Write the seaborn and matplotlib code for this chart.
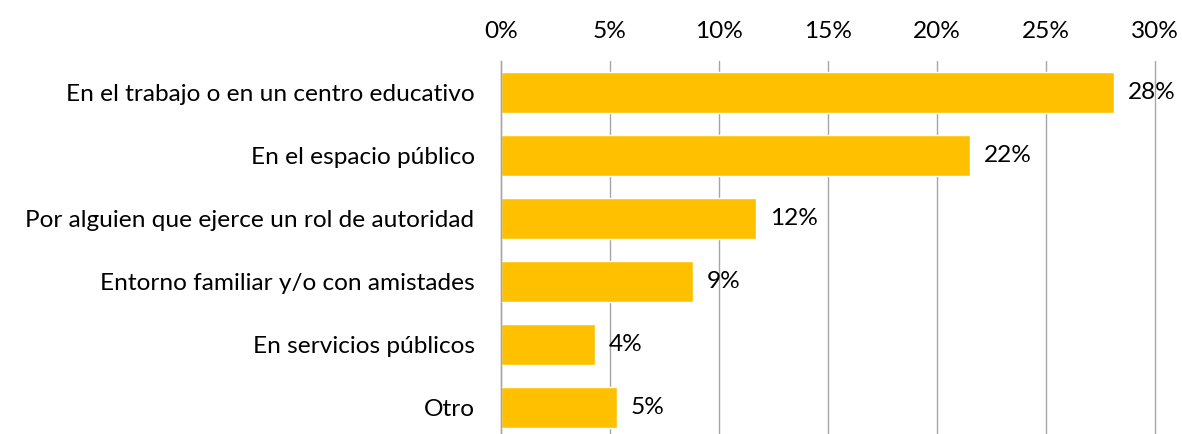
import matplotlib
matplotlib.use("Agg")
import matplotlib.pyplot as plt
import seaborn as sns
import pandas as pd

categories = [
    "En el trabajo o en un centro educativo",
    "En el espacio público",
    "Por alguien que ejerce un rol de autoridad",
    "Entorno familiar y/o con amistades",
    "En servicios públicos",
    "Otro",
]
values = [28.1, 21.5, 11.7, 8.8, 4.3, 5.3]
value_labels = ["28%", "22%", "12%", "9%", "4%", "5%"]
xticks = [0, 5, 10, 15, 20, 25, 30]
xtick_labels = ["0%", "5%", "10%", "15%", "20%", "25%", "30%"]

df = pd.DataFrame({"cat": categories, "val": values})

sns.set_theme(style="white")
plt.rcParams["font.family"] = ["Lato", "DejaVu Sans"]

FS = 17.6

fig = plt.figure(figsize=(11.82, 4.34), dpi=100)
ax = fig.add_axes([501 / 1182, 0.0, (1155 - 501) / 1182, (434 - 61) / 434])

sns.barplot(data=df, x="val", y="cat", orient="h", color="#FFC000",
            saturation=1, width=0.65, ax=ax)

ax.set_xlim(0, 30)
ax.set_ylim(5.42, -0.5)
ax.set_xticks(xticks)
ax.set_xticklabels(xtick_labels)
ax.xaxis.tick_top()
ax.tick_params(axis="x", length=0, pad=14, labelsize=FS, colors="black")
ax.tick_params(axis="y", length=0, pad=19, labelsize=FS, colors="black")
ax.set_xlabel("")
ax.set_ylabel("")
ax.grid(axis="x", color="#A6A6A6", linewidth=1)
for gl in ax.get_xgridlines():
    gl.set_clip_on(False)
ax.set_axisbelow(True)
for s in ["top", "bottom", "right"]:
    ax.spines[s].set_visible(False)
ax.spines["left"].set_color("#A6A6A6")
ax.spines["left"].set_linewidth(1)

for i, (v, lab) in enumerate(zip(values, value_labels)):
    ax.annotate(lab, xy=(v, i), xytext=(10, 0), textcoords="offset points",
                va="center", ha="left", fontsize=FS, color="black",
                annotation_clip=False)

fig.savefig("out.png", dpi=100)
